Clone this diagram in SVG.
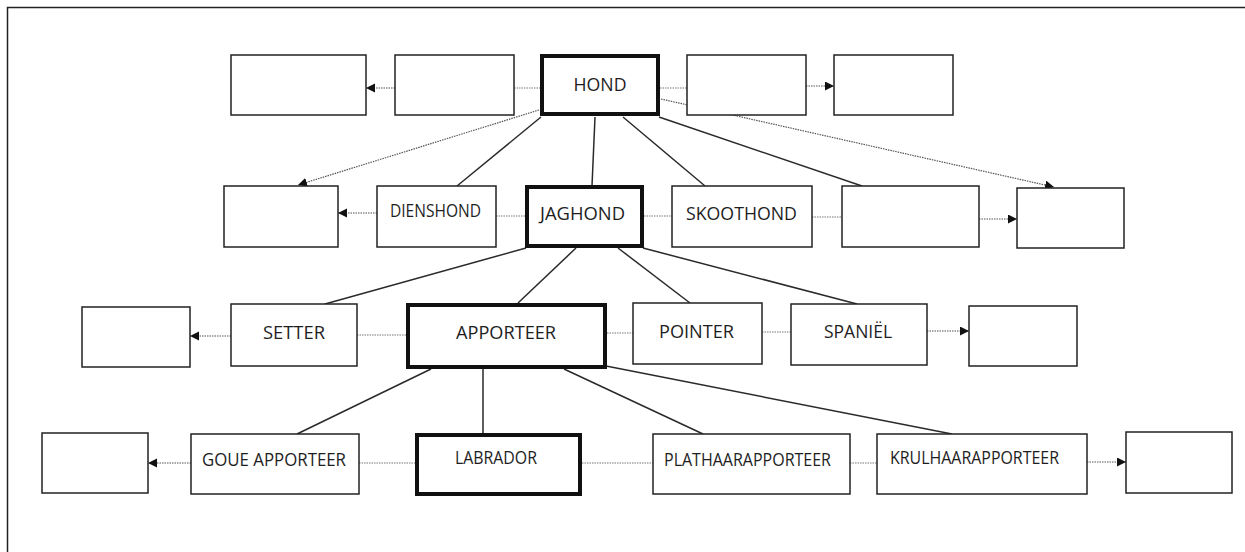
<svg xmlns="http://www.w3.org/2000/svg" width="1245" height="552" viewBox="0 0 1245 552">
  <defs>
    <marker id="arrow" markerUnits="userSpaceOnUse" markerWidth="11" markerHeight="10" refX="9" refY="4.5" orient="auto">
      <path d="M0,0 L9,4.5 L0,9 z" fill="#111"/>
    </marker>
  </defs>
  <style>
    .box { fill: #fff; stroke: #222; stroke-width: 1.5; }
    .main { fill: #fff; stroke: #111; stroke-width: 4; }
    .tree { stroke: #2a2a2a; stroke-width: 1.5; fill: none; }
    .dot { stroke: #777; stroke-width: 1.2; stroke-dasharray: 1.5 1; fill: none; }
    .ptr { stroke: #555; stroke-width: 1.2; stroke-dasharray: 1.5 1; fill: none; marker-end: url(#arrow); }
    .lbl { font-family: "Open Sans", "Noto Sans", sans-serif; font-size: 19px; fill: #1e1e1e; text-anchor: middle; }
  </style>

  <rect width="1245" height="552" fill="#fff"/>
  <!-- page frame -->
  <path d="M7.5 552 V7.5 H1245" fill="none" stroke="#222" stroke-width="1.5"/>

  <g id="connectors">
    <!-- hierarchy lines -->
    <line class="tree" x1="541" y1="117" x2="457" y2="186"/>
    <line class="tree" x1="595" y1="117" x2="592" y2="186"/>
    <line class="tree" x1="623" y1="117" x2="705" y2="186"/>
    <line class="tree" x1="659" y1="117" x2="862" y2="186"/>

    <line class="tree" x1="526" y1="248" x2="325" y2="304"/>
    <line class="tree" x1="576" y1="248" x2="518" y2="303"/>
    <line class="tree" x1="618" y1="248" x2="690" y2="303"/>
    <line class="tree" x1="643" y1="248" x2="857" y2="304"/>

    <line class="tree" x1="431" y1="369" x2="297" y2="434"/>
    <line class="tree" x1="483" y1="369" x2="483" y2="433"/>
    <line class="tree" x1="564" y1="369" x2="703" y2="434"/>
    <line class="tree" x1="606" y1="366" x2="952" y2="434"/>

    <!-- diagonal dotted pointers from HOND -->
    <line class="ptr" x1="539" y1="110" x2="298" y2="185"/>
    <line class="ptr" x1="661" y1="99" x2="1054" y2="187"/>

    <!-- row 1 -->
    <line class="dot" x1="514" y1="88" x2="540" y2="88"/>
    <line class="dot" x1="660" y1="88" x2="687" y2="88"/>
    <line class="ptr" x1="395" y1="88" x2="366" y2="88"/>
    <line class="ptr" x1="806" y1="86" x2="834" y2="86"/>

    <!-- row 2 -->
    <line class="dot" x1="496" y1="216" x2="525" y2="216"/>
    <line class="dot" x1="644" y1="216" x2="672" y2="216"/>
    <line class="dot" x1="812" y1="217" x2="842" y2="217"/>
    <line class="ptr" x1="377" y1="213" x2="338" y2="213"/>
    <line class="ptr" x1="979" y1="219" x2="1017" y2="219"/>

    <!-- row 3 -->
    <line class="dot" x1="357" y1="335" x2="406" y2="335"/>
    <line class="dot" x1="607" y1="333" x2="633" y2="333"/>
    <line class="dot" x1="762" y1="332" x2="791" y2="332"/>
    <line class="ptr" x1="231" y1="336" x2="190" y2="336"/>
    <line class="ptr" x1="927" y1="331" x2="969" y2="331"/>

    <!-- row 4 -->
    <line class="dot" x1="359" y1="463" x2="415" y2="463"/>
    <line class="dot" x1="582" y1="463" x2="653" y2="463"/>
    <line class="dot" x1="850" y1="463" x2="877" y2="463"/>
    <line class="ptr" x1="191" y1="463" x2="148" y2="463"/>
    <line class="ptr" x1="1087" y1="462" x2="1126" y2="462"/>
  </g>

  <!-- row 1 -->
  <g id="blank-a"><rect class="box" x="231" y="55" width="135" height="60"/></g>
  <g id="blank-b"><rect class="box" x="395" y="55" width="119" height="60"/></g>
  <g id="hond">
    <rect class="main" x="542" y="56" width="116" height="58"/>
    <text class="lbl" x="600" y="91" textLength="53" lengthAdjust="spacingAndGlyphs">HOND</text>
  </g>
  <g id="blank-c"><rect class="box" x="687" y="55" width="119" height="60"/></g>
  <g id="blank-d"><rect class="box" x="834" y="55" width="119" height="60"/></g>

  <!-- row 2 -->
  <g id="blank-e"><rect class="box" x="224" y="186" width="114" height="61"/></g>
  <g id="dienshond">
    <rect class="box" x="377" y="186" width="119" height="61"/>
    <text class="lbl" x="435.5" y="217" textLength="91" lengthAdjust="spacingAndGlyphs">DIENSHOND</text>
  </g>
  <g id="jaghond">
    <rect class="main" x="527" y="187" width="115" height="59"/>
    <text class="lbl" x="582.5" y="220" textLength="85" lengthAdjust="spacingAndGlyphs">JAGHOND</text>
  </g>
  <g id="skoothond">
    <rect class="box" x="672" y="186" width="140" height="61"/>
    <text class="lbl" x="741.5" y="220" textLength="111" lengthAdjust="spacingAndGlyphs">SKOOTHOND</text>
  </g>
  <g id="blank-f"><rect class="box" x="842" y="186" width="137" height="61"/></g>
  <g id="blank-g"><rect class="box" x="1017" y="188" width="107" height="60"/></g>

  <!-- row 3 -->
  <g id="blank-h"><rect class="box" x="82" y="307" width="108" height="60"/></g>
  <g id="setter">
    <rect class="box" x="231" y="304" width="126" height="62"/>
    <text class="lbl" x="294" y="339" textLength="62" lengthAdjust="spacingAndGlyphs">SETTER</text>
  </g>
  <g id="apporteer">
    <rect class="main" x="408" y="305" width="197" height="62"/>
    <text class="lbl" x="506" y="339" textLength="100" lengthAdjust="spacingAndGlyphs">APPORTEER</text>
  </g>
  <g id="pointer">
    <rect class="box" x="633" y="303" width="129" height="61"/>
    <text class="lbl" x="696.5" y="338" textLength="75" lengthAdjust="spacingAndGlyphs">POINTER</text>
  </g>
  <g id="spaniel">
    <rect class="box" x="791" y="304" width="136" height="61"/>
    <text class="lbl" x="858" y="338" textLength="68" lengthAdjust="spacingAndGlyphs">SPANIËL</text>
  </g>
  <g id="blank-i"><rect class="box" x="969" y="306" width="108" height="60"/></g>

  <!-- row 4 -->
  <g id="blank-j"><rect class="box" x="42" y="433" width="106" height="60"/></g>
  <g id="goue-apporteer">
    <rect class="box" x="191" y="434" width="168" height="60"/>
    <text class="lbl" x="274" y="466" textLength="144" lengthAdjust="spacingAndGlyphs">GOUE APPORTEER</text>
  </g>
  <g id="labrador">
    <rect class="main" x="417" y="435" width="163" height="59"/>
    <text class="lbl" x="496" y="464" textLength="82" lengthAdjust="spacingAndGlyphs">LABRADOR</text>
  </g>
  <g id="plathaarapporteer">
    <rect class="box" x="653" y="434" width="197" height="60"/>
    <text class="lbl" x="747.5" y="466" textLength="167" lengthAdjust="spacingAndGlyphs">PLATHAARAPPORTEER</text>
  </g>
  <g id="krulhaarapporteer">
    <rect class="box" x="877" y="434" width="210" height="60"/>
    <text class="lbl" x="974.5" y="464" textLength="169" lengthAdjust="spacingAndGlyphs">KRULHAARAPPORTEER</text>
  </g>
  <g id="blank-k"><rect class="box" x="1126" y="432" width="106" height="61"/></g>
</svg>
